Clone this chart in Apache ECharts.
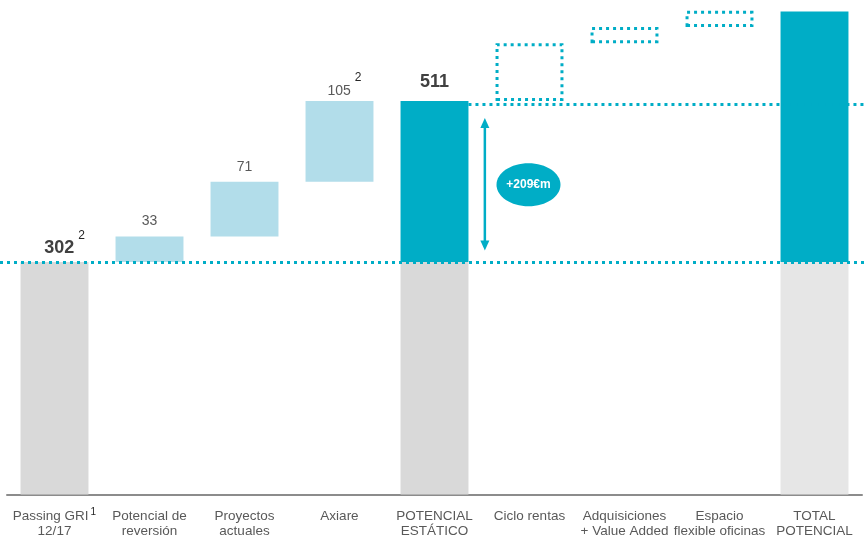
<!DOCTYPE html>
<html><head><meta charset="utf-8">
<script src="https://cdn.jsdelivr.net/npm/echarts@6/dist/echarts.min.js"></script>
<style>html,body{margin:0;padding:0;background:#fff}#c{width:864px;height:538px}</style>
</head><body><div id="c"></div>
<script>
const categories = ['Passing GRI\n12/17', 'Potencial de\nreversión', 'Proyectos\nactuales', 'Axiare', 'POTENCIAL\nESTÁTICO', 'Ciclo rentas', 'Adquisiciones\n+ Value Added', 'Espacio\nflexible oficinas', 'TOTAL\nPOTENCIAL'];
const values = [302, 33, 71, 105, 511, 75, 21, 21, 627];
const barKinds = ['total', 'step', 'step', 'step', 'total', 'potential', 'potential', 'potential', 'total'];
const valueLabels = ['302', '33', '71', '105', '511', '', '', '', ''];
const valueFootnotes = ['2', '', '', '2', '', '', '', '', ''];
const axisFootnotes = ['1', '', '', '', '', '', '', '', ''];
const growthLabel = '+209€m';

const TEAL = '#00ADC6', LIGHT = '#B2DDEA', GREY = '#D9D9D9', GREY2 = '#E6E6E6';

const baseVal = values[0];
const base = [], grey = [], light = [], teal = [], dotted = [];
let running = 0;
values.forEach((v, i) => {
  const k = barKinds[i];
  base.push(k === 'total' ? 0 : running);
  if (k === 'total') {
    grey.push({ value: baseVal, itemStyle: { color: i === values.length - 1 ? GREY2 : GREY } });
    teal.push(i === 0 ? '-' : v - baseVal);
    light.push('-'); dotted.push('-');
    running = v;
  } else if (k === 'step') {
    grey.push('-'); teal.push('-'); dotted.push('-');
    light.push(v); running += v;
  } else {
    grey.push('-'); teal.push('-'); light.push('-');
    dotted.push(v); running += v;
  }
});

const rich = {
  b: { fontSize: 18, fontWeight: 'bold', color: '#404040', fontFamily: 'Liberation Sans', lineHeight: 22 },
  n: { fontSize: 14, color: '#595959', fontFamily: 'Liberation Sans', lineHeight: 18 },
  s: { fontSize: 12, color: '#262626', fontFamily: 'Liberation Sans', lineHeight: 12, padding: [0, 0, 26, 4] }
};
function attachLabel(arr, i, bold) {
  const item = typeof arr[i] === 'object' ? arr[i] : { value: arr[i] };
  const sup = valueFootnotes[i];
  const main = (bold ? '{b|' : '{n|') + valueLabels[i] + '}';
  item.label = {
    show: true, position: 'top',
    distance: sup ? (bold ? 2.5 : 1) : (bold ? 8 : 6),
    offset: sup ? [bold ? 10 : 5, 0] : [0, 0],
    formatter: main + (sup ? '{s|' + sup + '}' : ''),
    rich: rich
  };
  arr[i] = item;
}
valueLabels.forEach((t, i) => {
  if (!t) return;
  if (barKinds[i] === 'step') attachLabel(light, i, false);
  else if (i === 0) attachLabel(grey, i, true);
  else attachLabel(teal, i, true);
});

const chart = echarts.init(document.getElementById('c'));
const barW = '71.5%';
chart.setOption({
  animation: false,
  grid: { left: 7, right: 2, top: 0, bottom: 43 },
  xAxis: {
    type: 'category', data: categories,
    axisTick: { show: false },
    axisLine: { lineStyle: { color: '#8C8C8C', width: 2 } },
    axisLabel: {
      interval: 0, margin: 14, color: '#595959',
      formatter: (v, i) => v.split('\n').map((line, k) => '{t|' + line + '}' + (k === 0 && axisFootnotes[i] ? '{s|' + axisFootnotes[i] + '}' : '')).join('\n'),
      rich: {
        t: { fontSize: 13.5, lineHeight: 15, color: '#595959', fontFamily: 'Liberation Sans' },
        s: { fontSize: 10, lineHeight: 10, color: '#262626', fontFamily: 'Liberation Sans', padding: [0, 0, 8, 2] }
      }
    }
  },
  yAxis: { type: 'value', min: 0, max: 642, show: false },
  series: [
    { type: 'bar', stack: 'w', barWidth: barW, data: base, itemStyle: { color: 'transparent' }, silent: true },
    { type: 'bar', stack: 'w', barWidth: barW, data: grey, itemStyle: { color: GREY } },
    { type: 'bar', stack: 'w', barWidth: barW, data: light, itemStyle: { color: LIGHT } },
    { type: 'bar', stack: 'w', barWidth: barW, data: teal, itemStyle: { color: TEAL } },
    { type: 'bar', stack: 'w', barWidth: barW, data: dotted,
      itemStyle: { color: 'rgba(0,0,0,0)', borderColor: TEAL, borderWidth: 3, borderType: [3, 4], borderCap: 'butt' } }
  ]
});

// annotations
const px = (x, y) => chart.convertToPixel({ gridIndex: 0 }, [x, y]);
const yBase = Math.round(px(0, baseVal)[1]) + 0.5;
const yStatic = px(4, values[4])[1];
const x4 = px(4, 0)[0], x5 = px(5, 0)[0];
const step = x5 - x4;
const bw = step * 0.715;
const arrowX = x4 + step * 0.53;
const arrowTop = yStatic + 17, arrowBot = yBase - 12;
const ellCx = x5 - 1, ellCy = (yStatic + yBase) / 2 + 3;
const dotStyle = { stroke: TEAL, lineWidth: 3, lineDash: [3, 4], lineCap: 'butt' };
const yTopLine = Math.round(yStatic + 3) + 0.5;
chart.setOption({
  graphic: [
    { type: 'line', z: 100, shape: { x1: 0, y1: yBase, x2: 864, y2: yBase }, style: dotStyle },
    { type: 'line', z: 100, shape: { x1: x4 + bw / 2, y1: yTopLine, x2: 864, y2: yTopLine }, style: dotStyle },
    { type: 'line', z: 100, shape: { x1: arrowX, y1: arrowTop + 8, x2: arrowX, y2: arrowBot - 8 }, style: { stroke: TEAL, lineWidth: 2.5 } },
    { type: 'polygon', z: 100, shape: { points: [[arrowX, arrowTop], [arrowX - 4.5, arrowTop + 10], [arrowX + 4.5, arrowTop + 10]] }, style: { fill: TEAL } },
    { type: 'polygon', z: 100, shape: { points: [[arrowX, arrowBot], [arrowX - 4.5, arrowBot - 10], [arrowX + 4.5, arrowBot - 10]] }, style: { fill: TEAL } },
    { type: 'ellipse', z: 100, shape: { cx: ellCx, cy: ellCy, rx: 32, ry: 21.5 }, style: { fill: TEAL } },
    { type: 'text', z: 101, x: ellCx, y: ellCy, style: { text: growthLabel, fill: '#fff', font: 'bold 12px "Liberation Sans"', align: 'center', verticalAlign: 'middle' } }
  ]
});
</script></body></html>
